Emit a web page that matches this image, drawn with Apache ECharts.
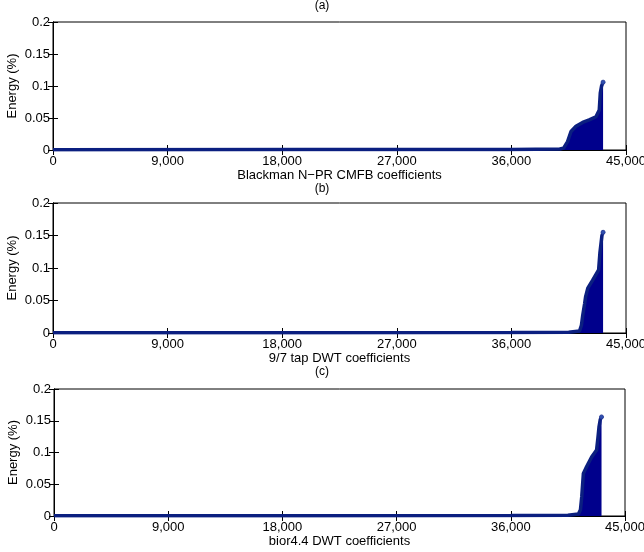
<!DOCTYPE html>
<html><head><meta charset="utf-8">
<script src="https://cdn.jsdelivr.net/npm/echarts@6/dist/echarts.min.js"></script>
<style>html,body{margin:0;padding:0;background:#fff}#c{width:644px;height:552px}</style>
</head><body><div id="c"></div><script>
const panelTitles = ['(a)', '(b)', '(c)'];
const xAxisLabels = ['Blackman N\u2212PR CMFB coefficients', '9/7 tap DWT coefficients', 'bior4.4 DWT coefficients'];
const yAxisLabel = 'Energy (%)';
const xTickValues = [0, 9000, 18000, 27000, 36000, 45000];
const yTickValues = [0, 0.05, 0.1, 0.15, 0.2];

// (a) Blackman N-PR CMFB: sorted coefficient energies (coefficient index, energy %)
const xA = [0, 20000, 36000, 39800, 40100, 40410, 40680, 41070, 41590, 42110, 42640, 42900, 42980, 43080, 43200];
const yA = [0.0004, 0.0006, 0.0009, 0.0015, 0.003, 0.013, 0.029, 0.037, 0.043, 0.047, 0.052, 0.0625, 0.089, 0.1, 0.106];
// (b) 9/7 tap DWT
const xB = [0, 20000, 36000, 40500, 41350, 41500, 41600, 41750, 41830, 42000, 42370, 42850, 42950, 43110, 43200];
const yB = [0.0004, 0.0005, 0.0007, 0.0012, 0.003, 0.012, 0.027, 0.045, 0.056, 0.069, 0.081, 0.097, 0.123, 0.15, 0.155];
// (c) bior4.4 DWT
const xC = [0, 20000, 36000, 40500, 41330, 41490, 41590, 41720, 41980, 42370, 42760, 42850, 42950, 43050, 43150];
const yC = [0.0004, 0.0005, 0.0007, 0.0012, 0.003, 0.01, 0.03, 0.067, 0.078, 0.093, 0.104, 0.12, 0.14, 0.152, 0.156];

const seriesX = [xA, xB, xC];
const seriesY = [yA, yB, yC];

const grids = [
  {left: 53, top: 22, width: 573, height: 128},
  {left: 53, top: 203, width: 573, height: 130},
  {left: 54, top: 389, width: 571, height: 127}
];
const titleTops = [0, 183, 366];

const FONT = 'Liberation Sans, Arial, Helvetica, sans-serif';
const fmtX = v => v === 0 ? '0' : String(v).replace(/\B(?=(\d{3})+(?!\d))/g, ',');

const option = {
  animation: false,
  backgroundColor: '#fff',
  textStyle: {fontFamily: FONT},
  title: panelTitles.map((t, i) => ({
    text: t, left: 'center', top: titleTops[i], padding: 0,
    textStyle: {fontSize: 12, fontWeight: 'normal', color: '#000', fontFamily: FONT}
  })),
  grid: grids.map(g => Object.assign({show: true, borderColor: '#000', borderWidth: 1, backgroundColor: '#fff', containLabel: false, outerBoundsMode: 'none'}, g)),
  xAxis: [],
  yAxis: [],
  series: []
};

grids.forEach((g, i) => {
  option.xAxis.push({
    type: 'value', gridIndex: i, position: 'bottom',
    min: xTickValues[0], max: xTickValues[xTickValues.length - 1], interval: xTickValues[1] - xTickValues[0],
    name: xAxisLabels[i], nameLocation: 'middle', nameGap: 19, nameMoveOverlap: false,
    nameTextStyle: {fontSize: 13, color: '#000', fontFamily: FONT},
    axisLine: {show: true, lineStyle: {color: '#000', width: 1}},
    axisTick: {show: true, inside: true, length: 5, lineStyle: {color: '#000'}},
    axisLabel: {show: true, margin: 5, fontSize: 13, color: '#000', fontFamily: FONT, formatter: fmtX},
    splitLine: {show: false}
  });
  option.xAxis.push({
    type: 'value', gridIndex: i, position: 'top',
    min: xTickValues[0], max: xTickValues[xTickValues.length - 1], interval: xTickValues[1] - xTickValues[0],
    axisLine: {show: true, lineStyle: {color: '#000', width: 1}},
    axisTick: {show: true, inside: true, length: 5, lineStyle: {color: '#000'}},
    axisLabel: {show: false}, splitLine: {show: false}
  });
  option.yAxis.push({
    type: 'value', gridIndex: i, position: 'left',
    min: yTickValues[0], max: yTickValues[yTickValues.length - 1], interval: yTickValues[1] - yTickValues[0],
    name: yAxisLabel, nameLocation: 'middle', nameGap: 34, nameMoveOverlap: false,
    nameTextStyle: {fontSize: 13, color: '#000', fontFamily: FONT},
    axisLine: {show: true, lineStyle: {color: '#000', width: 1}},
    axisTick: {show: true, inside: true, length: 5, lineStyle: {color: '#000'}},
    axisLabel: {show: true, margin: 3, fontSize: 13, color: '#000', fontFamily: FONT},
    splitLine: {show: false}
  });
  option.yAxis.push({
    type: 'value', gridIndex: i, position: 'right',
    min: yTickValues[0], max: yTickValues[yTickValues.length - 1], interval: yTickValues[1] - yTickValues[0],
    axisLine: {show: true, lineStyle: {color: '#000', width: 1}},
    axisTick: {show: true, inside: true, length: 5, lineStyle: {color: '#000'}},
    axisLabel: {show: false}, splitLine: {show: false}
  });
  const xs = seriesX[i], ys = seriesY[i];
  const data = xs.map((x, k) => k === xs.length - 1
    ? {value: [x, ys[k]], symbol: 'circle', symbolSize: 4, itemStyle: {color: '#3050b0', borderColor: '#2a3f9a', borderWidth: 1}}
    : {value: [x, ys[k]], symbol: 'none'});
  option.series.push({
    type: 'line', xAxisIndex: 2 * i, yAxisIndex: 2 * i,
    data: data, showSymbol: true, smooth: false, silent: true,
    lineStyle: {color: '#0b1f80', width: 3.5},
    areaStyle: {color: '#00008c', opacity: 1, origin: 'start'},
    z: 3
  });
});

const chart = echarts.init(document.getElementById('c'), null, {renderer: 'canvas'});
chart.setOption(option);
</script></body></html>
